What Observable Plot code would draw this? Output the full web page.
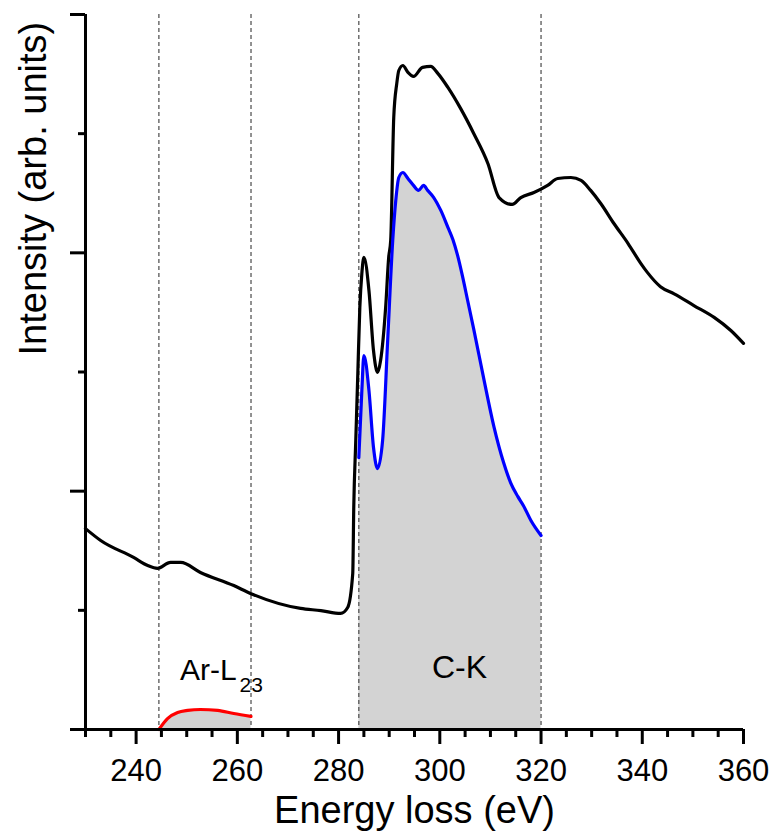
<!DOCTYPE html>
<html>
<head>
<meta charset="utf-8">
<script src="https://cdn.jsdelivr.net/npm/d3@7"></script>
<script src="https://cdn.jsdelivr.net/npm/@observablehq/plot@0.6"></script>
<style>
  body { margin: 0; background: #ffffff; }
  #chart svg { display: block; }
</style>
</head>
<body>
<div id="chart"></div>
<script>
// Total spectrum (black)
const totalEnergy = [230.0, 233.0, 239.5, 242.3, 244.2, 246.8, 248.8, 252.7, 259.3, 262.6, 272.5, 276.5, 280.4, 281.8, 282.8, 283.0, 283.4, 283.8, 284.2, 284.6, 285.0, 286.0, 286.9, 287.7, 288.3, 289.3, 289.9, 290.3, 290.9, 291.5, 291.9, 292.7, 293.7, 294.8, 296.6, 298.2, 299.6, 301.6, 304.1, 306.7, 309.5, 311.7, 314.3, 316.0, 318.6, 321.3, 323.3, 325.9, 327.9, 329.8, 331.8, 334.4, 337.2, 339.7, 341.0, 343.6, 346.3, 350.2, 354.2, 357.5, 360.0];
const totalIntensity = [0.843, 0.793, 0.722, 0.688, 0.676, 0.701, 0.701, 0.659, 0.604, 0.571, 0.508, 0.499, 0.487, 0.512, 0.655, 0.932, 1.213, 1.494, 1.771, 1.914, 1.981, 1.842, 1.590, 1.498, 1.548, 1.771, 1.981, 2.052, 2.568, 2.711, 2.765, 2.786, 2.757, 2.740, 2.778, 2.782, 2.753, 2.694, 2.606, 2.501, 2.375, 2.232, 2.203, 2.232, 2.253, 2.283, 2.312, 2.316, 2.304, 2.262, 2.207, 2.123, 2.039, 1.956, 1.918, 1.858, 1.828, 1.779, 1.729, 1.674, 1.620];

// C-K edge (blue)
const ckEnergy = [284.0, 284.6, 285.0, 286.0, 286.9, 287.7, 288.7, 289.7, 290.7, 291.3, 291.9, 292.7, 293.7, 294.8, 295.8, 296.8, 297.6, 298.8, 300.2, 301.6, 302.6, 303.5, 304.5, 305.5, 306.7, 308.7, 310.7, 312.6, 314.0, 315.4, 316.5, 318.0, 320.0];
const ckIntensity = [1.141, 1.423, 1.569, 1.423, 1.183, 1.095, 1.213, 1.632, 2.052, 2.220, 2.316, 2.337, 2.312, 2.283, 2.262, 2.283, 2.262, 2.232, 2.178, 2.107, 2.055, 1.990, 1.900, 1.800, 1.680, 1.470, 1.270, 1.120, 1.035, 0.978, 0.940, 0.877, 0.814];

// Ar-L23 edge (red)
const arEnergy = [244.5, 246.2, 248.2, 250.2, 252.7, 256.1, 259.3, 262.7];
const arIntensity = [0.0, 0.046, 0.071, 0.080, 0.084, 0.080, 0.067, 0.055];

// Integration window boundaries
const windowEdges = [244.5, 262.7, 284.0, 320.0];

// Axis ticks
const xMajorTicks = [240, 260, 280, 300, 320, 340, 360];
const xMinorTicks = [230, 235, 245, 250, 255, 265, 270, 275, 285, 290, 295, 305, 310, 315, 325, 330, 335, 345, 350, 355];
const yMajorTicks = [0, 1, 2, 3];
const yMinorTicks = [0.5, 1.5, 2.5];

const xLabel = "Energy loss (eV)";
const yLabel = "Intensity (arb. units)";

const total = totalEnergy.map((e, i) => ({e, v: totalIntensity[i]}));
const ck = ckEnergy.map((e, i) => ({e, v: ckIntensity[i]}));
const ar = arEnergy.map((e, i) => ({e, v: arIntensity[i]}));

const chart = Plot.plot({
  width: 774,
  height: 834,
  marginTop: 14,
  marginRight: 31,
  marginBottom: 105,
  marginLeft: 85,
  style: {
    fontFamily: "'Liberation Sans', Arial, Helvetica, sans-serif",
    fontSize: "31px",
    background: "#ffffff",
    color: "#000",
    overflow: "visible"
  },
  x: {domain: [230, 360], label: null, axis: null},
  y: {domain: [0, 3], label: null, axis: null},
  marks: [
    Plot.areaY(ar, {x: "e", y: "v", fill: "#d3d3d3", curve: "monotone-x"}),
    Plot.areaY(ck, {x: "e", y: "v", fill: "#d3d3d3", curve: "monotone-x"}),
    Plot.ruleX(windowEdges, {stroke: "#4a4a4a", strokeWidth: 1.2, strokeDasharray: "4,3"}),
    Plot.line(total, {x: "e", y: "v", stroke: "#000", strokeWidth: 3.2, curve: "monotone-x"}),
    Plot.line(ck, {x: "e", y: "v", stroke: "#0000ff", strokeWidth: 3.2, curve: "monotone-x"}),
    Plot.line(ar, {x: "e", y: "v", stroke: "#ff0000", strokeWidth: 3.2, curve: "monotone-x"}),
    // axes
    Plot.ruleY([0], {stroke: "#000", strokeWidth: 3}),
    Plot.ruleX([230], {stroke: "#000", strokeWidth: 3}),
    Plot.axisX({ticks: xMajorTicks, tickSize: 15, tickPadding: 14, strokeWidth: 3, label: null, tickFormat: d => String(d), fontSize: 31}),
    Plot.axisX({ticks: xMinorTicks, tickSize: 8, strokeWidth: 3, label: null, tickFormat: () => ""}),
    Plot.axisY({ticks: yMajorTicks, tickSize: 15, strokeWidth: 3, label: null, tickFormat: () => ""}),
    Plot.axisY({ticks: yMinorTicks, tickSize: 7, strokeWidth: 3, label: null, tickFormat: () => ""}),
    // labels
    Plot.text([xLabel], {text: d => d, frameAnchor: "bottom", dy: 93, lineAnchor: "bottom", fontSize: 38}),
    Plot.text([yLabel], {text: d => d, frameAnchor: "left", rotate: -90, dx: -40, dy: -16.5, lineAnchor: "bottom", fontSize: 38}),
    Plot.text(["Ar-L"], {text: d => d, x: 259.85, y: 0.206, textAnchor: "end", lineAnchor: "bottom", fontSize: 30}),
    Plot.text(["23"], {text: d => d, x: 259.85, y: 0.206, textAnchor: "start", lineAnchor: "bottom", dx: 3, dy: 12, fontSize: 21}),
    Plot.text(["C-K"], {text: d => d, x: 303.9, y: 0.218, textAnchor: "middle", lineAnchor: "bottom", fontSize: 32})
  ]
});

// make axis ticks as heavy as the axis lines
chart.querySelectorAll('g[aria-label$="tick"]').forEach(g => {
  g.setAttribute("stroke-width", "3");
  g.setAttribute("stroke", "#000");
});

document.getElementById("chart").appendChild(chart);
</script>
</body>
</html>
